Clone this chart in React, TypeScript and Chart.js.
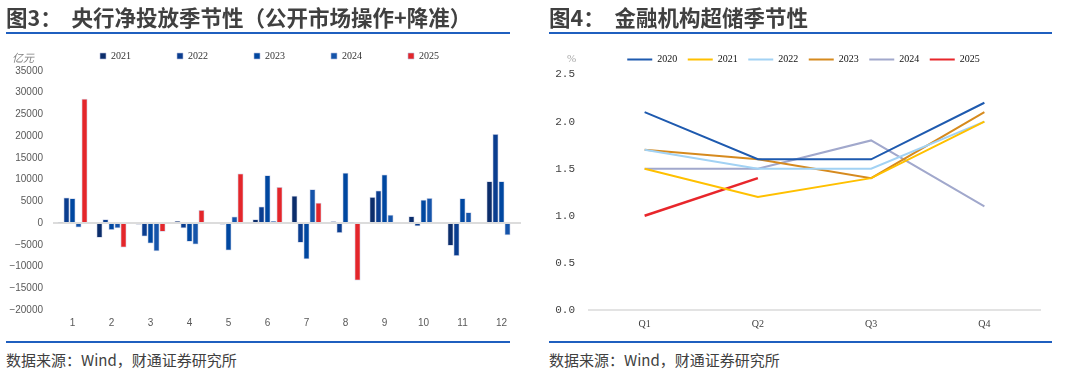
import React, { useEffect, useRef } from 'react';
import { Chart, registerables } from 'chart.js';

Chart.register(...registerables);

// ---------- Left chart data (亿元) ----------
const months = ['1', '2', '3', '4', '5', '6', '7', '8', '9', '10', '11', '12'];
const barYears = ['2021', '2022', '2023', '2024', '2025'];
const net2021 = [200, -3400, -300, 500, -200, 900, 6300, 400, 6000, 1600, -5200, 9600];
const net2022 = [5900, 900, -3100, -1200, -300, 3800, -4500, -2300, 7500, -700, -7600, 20500];
const net2023 = [5700, -1600, -4700, -4300, -6300, 11000, -8300, 11600, 11200, 5400, 5700, 9600];
const net2024 = [-1000, -1200, -6500, -4900, 1500, 500, 7800, 200, 1900, 5800, 2500, -2800];
const net2025 = [28600, -5600, -2000, 3000, 11400, 8300, 4700, -13200, null, null, null, null];
const barColors = ['#0B2D6B', '#0A3D8F', '#0047A0', '#1554AA', '#E3262B'];
const barTicks = { min: -20000, max: 35000, step: 5000 };

// ---------- Right chart data (%) ----------
const quarters = ['Q1', 'Q2', 'Q3', 'Q4'];
const lineYears = ['2020', '2021', '2022', '2023', '2024', '2025'];
const ex2020 = [2.1, 1.6, 1.6, 2.2];
const ex2021 = [1.5, 1.2, 1.4, 2.0];
const ex2022 = [1.7, 1.5, 1.5, 2.0];
const ex2023 = [1.7, 1.6, 1.4, 2.1];
const ex2024 = [1.5, 1.5, 1.8, 1.1];
const ex2025 = [1.0, 1.4, null, null];
const lineColors = ['#1E5AAF', '#FFC000', '#A2D2F4', '#D68A1E', '#A1A8CC', '#E8262B'];
const lineTicks = { min: 0, max: 2.5, step: 0.5 };

const barSeries = [net2021, net2022, net2023, net2024, net2025];
const lineSeries = [ex2020, ex2021, ex2022, ex2023, ex2024, ex2025];

function BarChart() {
  const ref = useRef<HTMLCanvasElement>(null);
  useEffect(() => {
    const chart = new Chart(ref.current!, {
      type: 'bar',
      data: {
        labels: months,
        datasets: barYears.map((y, i) => ({
          label: y,
          data: barSeries[i],
          backgroundColor: barColors[i],
          borderColor: 'rgba(185,192,222,0.8)',
          borderWidth: 0.75,
          categoryPercentage: 0.77,
          barPercentage: 1.0,
        })),
      },
      options: {
        responsive: false,
        animation: false,
        layout: { padding: { left: 18, right: 19, top: 5, bottom: 0 } },
        plugins: {
          tooltip: { enabled: false },
          legend: {
            labels: {
              boxWidth: 6,
              boxHeight: 6,
              padding: 46,
              color: '#333333',
              font: { family: '"Liberation Serif", serif', size: 10 },
            },
          },
        },
        scales: {
          x: {
            grid: { display: false, drawTicks: false },
            border: { display: false },
            ticks: { color: '#595959', padding: 7, font: { family: '"Liberation Sans", Arial, sans-serif', size: 10 } },
            afterFit: (s: any) => { s.height = 25; },
          },
          y: {
            min: barTicks.min,
            max: barTicks.max,
            border: { display: false },
            grid: {
              drawTicks: false,
              lineWidth: 2,
              color: (ctx: any) => (ctx.tick && ctx.tick.value === 0 ? '#DCDCDC' : 'rgba(0,0,0,0)'),
            },
            ticks: {
              stepSize: barTicks.step,
              mirror: true,
              crossAlign: 'far',
              padding: -43.6,
              color: '#595959',
              font: { family: '"Liberation Sans", Arial, sans-serif', size: 10 },
              callback: (v: any) => (Number(v) < 0 ? '\u2212' + String(-Number(v)) : String(v)),
            },
            afterFit: (s: any) => { s.width = 35; },
          },
        },
      },
    });
    return () => chart.destroy();
  }, []);
  return <canvas ref={ref} width={540} height={335} style={{ position: 'absolute', left: 0, top: 0 }} />;
}

function LineChart() {
  const ref = useRef<HTMLCanvasElement>(null);
  useEffect(() => {
    const chart = new Chart(ref.current!, {
      type: 'line',
      data: {
        labels: quarters,
        datasets: lineYears.map((y, i) => ({
          label: y,
          data: lineSeries[i],
          borderColor: lineColors[i],
          backgroundColor: lineColors[i],
          borderWidth: i === 5 ? 2.5 : 2,
          pointRadius: 0,
          tension: 0,
          fill: false,
        })),
      },
      options: {
        responsive: false,
        animation: false,
        layout: { padding: { left: 26, right: 39, top: 44, bottom: 0 } },
        plugins: {
          tooltip: { enabled: false },
          legend: {
            labels: {
              boxWidth: 25,
              boxHeight: 2,
              padding: 10.5,
              color: '#111111',
              font: { family: '"Liberation Serif", serif', size: 10 },
              generateLabels: (c: any) =>
                Chart.defaults.plugins.legend.labels.generateLabels(c).map((l: any) => ({ ...l, lineWidth: 0 })),
            },
          },
        },
        scales: {
          x: {
            offset: true,
            grid: { display: false, drawTicks: false },
            border: { display: false },
            ticks: { color: '#404040', padding: 8, font: { family: '"Liberation Serif", serif', size: 10 } },
            afterFit: (s: any) => { s.height = 25; },
          },
          y: {
            min: lineTicks.min,
            max: lineTicks.max,
            border: { display: false },
            grid: {
              drawTicks: false,
              lineWidth: 2,
              color: (ctx: any) => (ctx.tick && ctx.tick.value === 0 ? '#E3E3E3' : 'rgba(0,0,0,0)'),
            },
            ticks: {
              stepSize: lineTicks.step,
              mirror: true,
              crossAlign: 'far',
              padding: -32.8,
              color: '#404040',
              font: { family: '"Liberation Mono", monospace', size: 11 },
              callback: (v: any) => Number(v).toFixed(1),
            },
            afterFit: (s: any) => { s.width = 22; },
          },
        },
      },
    });
    return () => chart.destroy();
  }, []);
  return <canvas ref={ref} width={540} height={335} style={{ position: 'absolute', left: 540, top: 0 }} />;
}

const titleStyle: React.CSSProperties = {
  position: 'absolute',
  top: 4,
  fontSize: 21.5,
  lineHeight: '26px',
  fontWeight: 700,
  color: '#404040',
  fontFamily: '"Noto Sans CJK SC", sans-serif',
  whiteSpace: 'nowrap',
};
const ruleStyle: React.CSSProperties = { position: 'absolute', height: 2, background: '#1F5FBF' };
const footStyle: React.CSSProperties = {
  position: 'absolute',
  top: 351,
  fontSize: 15,
  lineHeight: '18px',
  color: '#404040',
  fontFamily: '"Noto Sans CJK SC", sans-serif',
  whiteSpace: 'nowrap',
};

export default function App() {
  return (
    <div style={{ position: 'fixed', left: 0, top: 0, width: 1080, height: 372, background: '#ffffff', overflow: 'hidden' }}>
      <BarChart />
      <LineChart />
      <div style={{ ...titleStyle, left: 6 }}>图3：&nbsp;&nbsp;央行净投放季节性（公开市场操作+降准）</div>
      <div style={{ ...titleStyle, left: 549 }}>图4：&nbsp;&nbsp;金融机构超储季节性</div>
      <div style={{ ...ruleStyle, left: 6, top: 32, width: 504 }} />
      <div style={{ ...ruleStyle, left: 549, top: 32, width: 503 }} />
      <div style={{ position: 'absolute', left: 12, top: 50, fontSize: 11, lineHeight: '14px', color: '#808080', fontFamily: '"Noto Sans CJK SC", sans-serif', fontStyle: 'italic' }}>亿元</div>
      <div style={{ position: 'absolute', left: 567, top: 51, fontSize: 11, lineHeight: '14px', color: '#A6A6A6', fontFamily: '"Liberation Serif", serif' }}>%</div>
      <div style={{ ...ruleStyle, left: 6, top: 341, width: 504 }} />
      <div style={{ ...ruleStyle, left: 549, top: 341, width: 503 }} />
      <div style={{ ...footStyle, left: 6 }}>数据来源：Wind，财通证券研究所</div>
      <div style={{ ...footStyle, left: 549 }}>数据来源：Wind，财通证券研究所</div>
    </div>
  );
}
